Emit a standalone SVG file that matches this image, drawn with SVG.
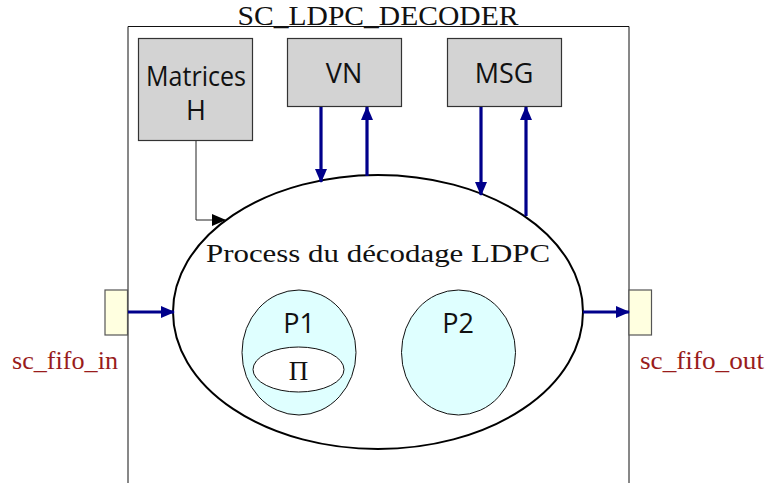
<svg xmlns="http://www.w3.org/2000/svg" width="766" height="483" viewBox="0 0 766 483">
<style>
.box{fill:#d3d3d3;stroke:#333;stroke-width:1.2}
.port{fill:#ffffe0;stroke:#555;stroke-width:1.2}
.sans{font-family:"Open Sans","DejaVu Sans",sans-serif;font-size:27px;fill:#111;text-anchor:middle}
.serif{font-family:"Liberation Serif","DejaVu Serif",serif;fill:#111}
.lbl{font-family:"Liberation Serif","DejaVu Serif",serif;font-size:25px;fill:#991c1c}
.blue{stroke:#00008b;stroke-width:3.2;fill:none}
.thin{stroke:#222;stroke-width:1;fill:none}
.sub{fill:#dfffff;stroke:#111;stroke-width:1}
</style>
<defs>
<marker id="ab" viewBox="0 0 14 12" refX="13" refY="6" markerWidth="14" markerHeight="12" markerUnits="userSpaceOnUse" orient="auto">
<path d="M0,0 L14,6 L0,12 Z" fill="#00008b"/>
</marker>
<marker id="ak" viewBox="0 0 14 12" refX="13" refY="6" markerWidth="14" markerHeight="12" markerUnits="userSpaceOnUse" orient="auto">
<path d="M0,0 L14,6 L0,12 Z" fill="#000"/>
</marker>
</defs>
<g id="decoder">
<path d="M128,490 V26.5 H629 V490" fill="none" stroke="#111" stroke-width="1"/>
<text class="serif" x="378" y="25" font-size="28" text-anchor="middle" textLength="281" lengthAdjust="spacingAndGlyphs">SC_LDPC_DECODER</text>
</g>
<g id="matrices">
<rect class="box" x="138.5" y="38.5" width="114" height="102"/>
<text class="sans" x="196" y="86" textLength="100" lengthAdjust="spacingAndGlyphs">Matrices</text>
<text class="sans" x="196" y="120">H</text>
</g>
<g id="vn">
<rect class="box" x="287.5" y="38.5" width="114" height="68"/>
<text class="sans" x="344" y="83">VN</text>
</g>
<g id="msg">
<rect class="box" x="447.5" y="38.5" width="114" height="68"/>
<text class="sans" x="504" y="83">MSG</text>
</g>
<g id="process">
<ellipse cx="378" cy="312" rx="205" ry="137" fill="#fff" stroke="#000" stroke-width="2"/>
<text class="serif" x="378" y="262" font-size="25" text-anchor="middle" textLength="344" lengthAdjust="spacingAndGlyphs">Process du décodage LDPC</text>
</g>
<g id="p1">
<ellipse class="sub" cx="299" cy="352.5" rx="57" ry="62.5"/>
<text class="sans" x="299" y="333" font-size="26">P1</text>
</g>
<g id="pi">
<ellipse cx="298.5" cy="369.5" rx="45.5" ry="22.5" fill="#fff" stroke="#111" stroke-width="1"/>
<text class="serif" x="298.5" y="380" font-size="27" text-anchor="middle">Π</text>
</g>
<g id="p2">
<ellipse class="sub" cx="458.5" cy="352.5" rx="57" ry="62.5"/>
<text class="sans" x="458" y="333" font-size="26">P2</text>
</g>
<g id="sc_fifo_in">
<rect class="port" x="105" y="290" width="22.5" height="45"/>
<text class="lbl" x="118" y="369" text-anchor="end" textLength="106" lengthAdjust="spacingAndGlyphs">sc_fifo_in</text>
</g>
<g id="sc_fifo_out">
<rect class="port" x="629" y="290" width="22.5" height="45"/>
<text class="lbl" x="640" y="369" textLength="124" lengthAdjust="spacingAndGlyphs">sc_fifo_out</text>
</g>
<g id="connectors">
<path class="thin" d="M196,141 V220 H225" marker-end="url(#ak)"/>
<path class="blue" d="M321,107 V182" marker-end="url(#ab)"/>
<path class="blue" d="M367,176 V107" marker-end="url(#ab)"/>
<path class="blue" d="M481,107 V195" marker-end="url(#ab)"/>
<path class="blue" d="M526,216 V107" marker-end="url(#ab)"/>
<path class="blue" d="M128,312 H174" marker-end="url(#ab)"/>
<path class="blue" d="M583,312 H629" marker-end="url(#ab)"/>
</g>
</svg>
